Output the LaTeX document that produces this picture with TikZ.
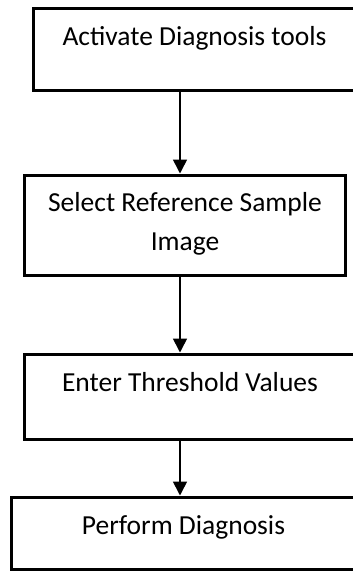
\documentclass[tikz,border=0pt]{standalone}
\usepackage{fontspec}
\setmainfont{Carlito}
\usetikzlibrary{arrows.meta}
\tikzset{
  box/.style={draw=black, line width=3pt, rectangle, inner sep=0pt},
  lbl/.style={font=\fontsize{27.5}{38.3}\selectfont, align=center, anchor=base, inner sep=0pt},
  arr/.style={draw=black, line width=1.6pt, -{Triangle[width=14pt,length=14pt]}}
}
\begin{document}
\begin{tikzpicture}[x=1pt, y=-1pt]
  \clip (0,0) rectangle (353,571);
  \fill[white] (0,0) rectangle (353,571);

  % process boxes (the right-hand ones run past the page edge)
  \node[box, minimum width=322.4pt, minimum height=81.7pt] (b1) at (194.5,49.15) {};
  \node[box, minimum width=321pt, minimum height=100pt] (b2) at (184.5,225) {};
  \node[box, minimum width=332pt, minimum height=85.7pt] (b3) at (190,396.85) {};
  \node[box, minimum width=345pt, minimum height=72.5pt] (b4) at (183.5,533.25) {};

  % box texts (base anchor of the two-line text is its last line)
  \node[lbl] (t1) at (194.5,45) {Activate Diagnosis tools};
  \node[lbl] (t2) at (185,250) {Select Reference Sample\\Image};
  \node[lbl] (t3) at (190,391) {Enter Threshold Values};
  \node[lbl] (t4) at (183.5,534.3) {Perform Diagnosis};

  % vertical flow line
  \coordinate (axis) at (180,0);
  \draw[arr] (b1.south -| axis) -- (b2.north -| axis);
  \draw[arr] (b2.south -| axis) -- (b3.north -| axis);
  \draw[arr] (b3.south -| axis) -- (b4.north -| axis);
\end{tikzpicture}
\end{document}
